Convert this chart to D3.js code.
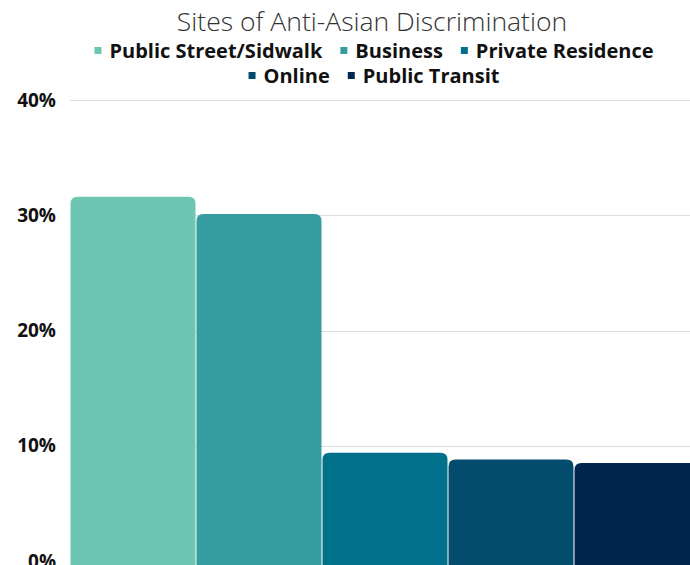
<!DOCTYPE html>
<html>
<head>
<meta charset="utf-8">
<script src="https://cdn.jsdelivr.net/npm/d3@7"></script>
<style>
  body { margin: 0; background: #fff; overflow: hidden; }
  svg { display: block; font-family: "Open Sans", sans-serif; }
</style>
</head>
<body>
<div id="chart"></div>
<script>
// data
var categories = ["Public Street/Sidwalk", "Business", "Private Residence", "Online", "Public Transit"];
var shares = [31.6, 30.1, 9.4, 8.8, 8.5];
var colours = ["#6dc6b2", "#359c9f", "#01718b", "#034c6e", "#00264f"];
var yTicks = [0, 10, 20, 30, 40];
var legendRows = [[0, 1, 2], [3, 4]];

var svgWidth = 690, svgHeight = 565;
var margin = {top: 100, left: 70, bottom: 4};

var svg = d3.select("#chart").append("svg")
    .attr("width", svgWidth).attr("height", svgHeight);

// scales
var x = d3.scaleBand()
    .domain(categories)
    .range([margin.left, margin.left + 630])
    .padding(0);

var y = d3.scaleLinear()
    .domain([0, 40])
    .range([svgHeight - margin.bottom, margin.top]);

var colour = d3.scaleOrdinal().domain(categories).range(colours);

// gridlines
svg.append("g").selectAll("line")
    .data(yTicks).enter().append("line")
    .attr("x1", margin.left).attr("x2", svgWidth)
    .attr("y1", function(d) { return Math.round(y(d)) + 0.5; })
    .attr("y2", function(d) { return Math.round(y(d)) + 0.5; })
    .attr("stroke", "#dcdcdc").attr("stroke-width", 1);

// y axis labels
var yAxis = d3.axisLeft(y).tickValues(yTicks)
    .tickFormat(function(d) { return d + "%"; })
    .tickSize(0).tickPadding(0);
var yg = svg.append("g")
    .attr("transform", "translate(56 0)")
    .call(yAxis);
yg.select(".domain").remove();
yg.selectAll("text")
    .attr("font-size", "19px")
    .attr("font-weight", "bold")
    .attr("font-family", "'Open Sans', sans-serif")
    .attr("fill", "#111");

// bars with rounded tops
function barPath(d, i) {
    var x0 = x(categories[i]) + 0.5, w = x.bandwidth() - 1;
    var y0 = y(d), y1 = y(0) + 10, r = 7;
    return "M" + x0 + "," + y1 +
        "V" + (y0 + r) +
        "Q" + x0 + "," + y0 + " " + (x0 + r) + "," + y0 +
        "H" + (x0 + w - r) +
        "Q" + (x0 + w) + "," + y0 + " " + (x0 + w) + "," + (y0 + r) +
        "V" + y1 + "Z";
}
svg.append("g").selectAll("path")
    .data(shares).enter().append("path")
    .attr("d", barPath)
    .attr("fill", function(d, i) { return colour(categories[i]); });

// title
svg.append("text")
    .attr("x", 372).attr("y", 31)
    .attr("text-anchor", "middle")
    .attr("font-size", "26.5px")
    .attr("font-weight", 300)
    .attr("fill", "#333")
    .text("Sites of Anti-Asian Discrimination");

// legend, two centred rows
legendRows.forEach(function(row, r) {
    var g = svg.append("g").attr("class", "legend");
    var cx = 0;
    row.forEach(function(idx, k) {
        var item = g.append("g").attr("transform", "translate(" + cx + " 0)");
        item.append("rect")
            .attr("x", 0).attr("y", -11)
            .attr("width", 7).attr("height", 7)
            .attr("fill", colours[idx]);
        var t = item.append("text")
            .attr("x", 15).attr("y", 0)
            .attr("font-size", "20px")
            .attr("font-weight", "bold")
            .attr("fill", "#111")
            .text(categories[idx]);
        cx += 15 + t.node().getComputedTextLength() + 18;
    });
    var total = cx - 18;
    g.attr("transform", "translate(" + (374 - total / 2) + " " + (58 + r * 25) + ")");
});
</script>
</body>
</html>
